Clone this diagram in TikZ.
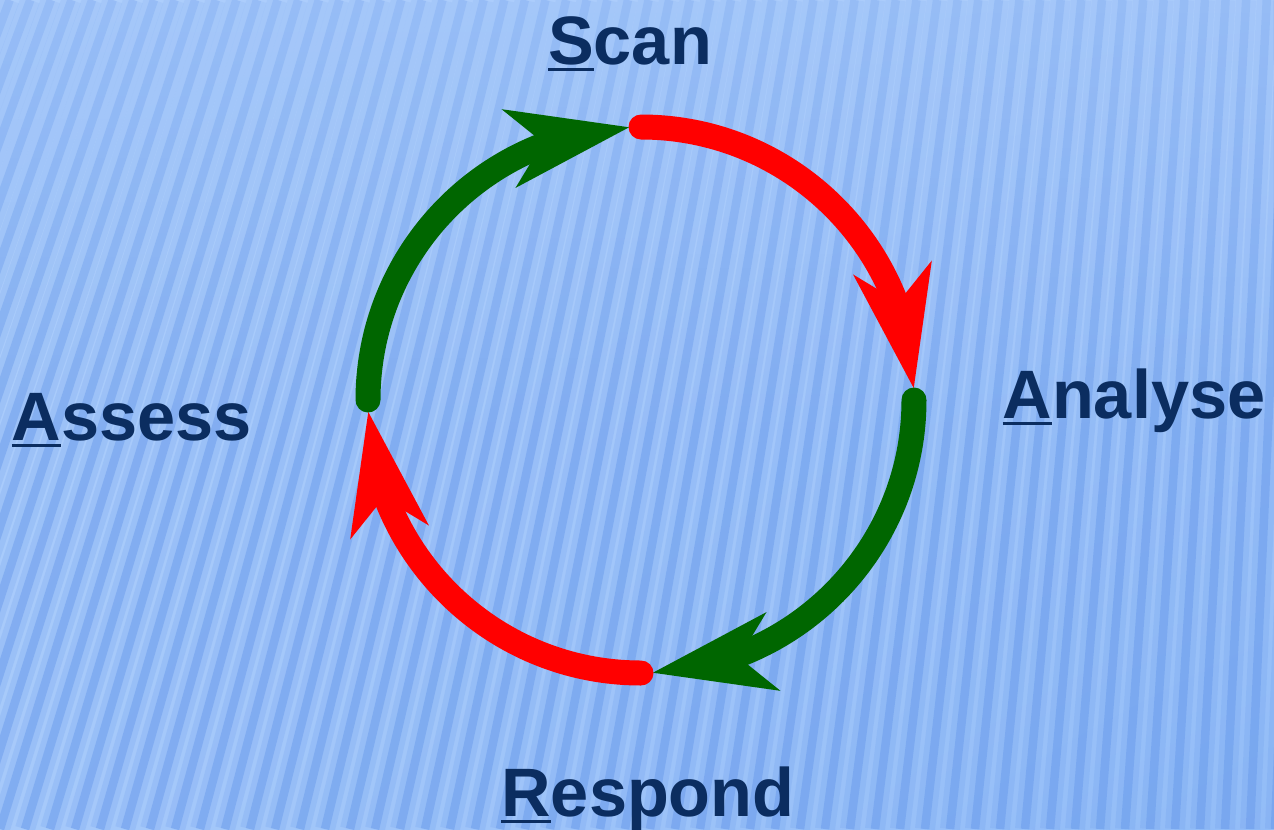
\documentclass[tikz,border=0pt]{standalone}
\usepackage{fontspec}
\setmainfont{Liberation Sans}
\usetikzlibrary{arrows.meta,bending,fadings,shadings}

\definecolor{bgul}{HTML}{ADCEFC}
\definecolor{bgur}{HTML}{AACBFB}
\definecolor{bgll}{HTML}{A6C9FA}
\definecolor{bglr}{HTML}{92BCF7}
\definecolor{stripe}{HTML}{6295EA}
\definecolor{navy}{HTML}{0B2D60}
\definecolor{cyclered}{HTML}{FF0000}
\definecolor{cyclegreen}{HTML}{006600}

% underline the initial letter of a step
\newcommand{\capul}[1]{\setbox0\hbox{#1}\rlap{\rule[-4pt]{\wd0}{1.8pt}}\box0}

\tikzset{
  steplabel/.style={font=\bfseries\fontsize{39}{44}\selectfont, text=navy, inner sep=0pt, anchor=base},
  arcline/.style={line width=0.5cm, line cap=round,
    -{Stealth[length=2.45cm, width=1.6cm, inset=0.7cm, line width=0pt, flex'=0.6]}},
  stripehalo/.style={stripe, line width=0.4cm, opacity=0.18},
  stripecore/.style={stripe, line width=0.17cm, opacity=0.42}
}

\begin{document}
\begin{tikzpicture}[x=0.02cm,y=-0.02cm]
    % backdrop
    \useasboundingbox (0,0) rectangle (1274,829);
    \shade[upper left=bgul, upper right=bgur, lower left=bgll, lower right=bglr] (0,0) rectangle (1274,829);
    \begin{scope}
        \clip (0,0) rectangle (1274,829);
        \foreach \i in {-14,...,52} {
            \pgfmathsetmacro{\xb}{\i*25}
            \pgfmathsetmacro{\xt}{\xb+829*(0.27*(1-\xb/1274)+0.04)}
            \draw[stripehalo] (\xb,829) -- (\xt,0);
            \draw[stripecore] (\xb,829) -- (\xt,0);
        }
        \fill[bgul, path fading=south, opacity=0.45] (0,0) rectangle (1274,450);
    \end{scope}

    % cycle
    \coordinate (hub) at (641,400);
    \foreach \a/\col in {-90/cyclered, 0/cyclegreen, 90/cyclered, 180/cyclegreen}
        \draw[arcline, \col] (hub) ++(\a:273) arc[start angle=\a, delta angle=87.5, radius=273];

    % steps
    \node[steplabel] (scan) at (630,64) {\capul{S}can};
    \node[steplabel] (analyse) at (1134,418) {\capul{A}nalyse};
    \node[steplabel] (respond) at (648,816) {\capul{R}espond};
    \node[steplabel] (assess) at (132,440) {\capul{A}ssess};
\end{tikzpicture}
\end{document}
